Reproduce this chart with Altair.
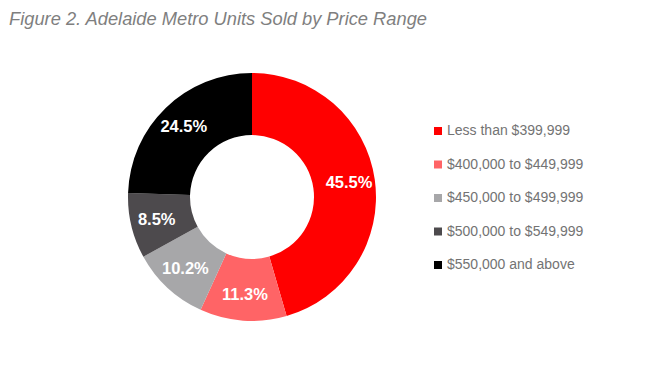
import altair as alt
import pandas as pd

categories = ["Less than $399,999", "$400,000 to $449,999", "$450,000 to $499,999",
              "$500,000 to $549,999", "$550,000 and above"]
shares = [45.5, 11.3, 10.2, 8.5, 24.5]
labels = ["45.5%", "11.3%", "10.2%", "8.5%", "24.5%"]
colors = ["#FF0000", "#FF6466", "#A7A7A9", "#4D4A4D", "#000000"]

df = pd.DataFrame({"cat": categories, "share": shares, "label": labels,
                   "idx": list(range(len(categories)))})

cx, cy = 244, 151

base = alt.Chart(df).encode(
    theta=alt.Theta("share:Q", stack=True),
    order=alt.Order("idx:Q"),
)

arcs = base.mark_arc(innerRadius=62, outerRadius=124, stroke=None).encode(
    x=alt.value(cx), y=alt.value(cy),
    color=alt.Color("cat:N", scale=alt.Scale(domain=categories, range=colors),
                    legend=alt.Legend(title=None, orient="none", legendX=423, legendY=78,
                                      symbolType="square", symbolSize=64,
                                      symbolStrokeWidth=0,
                                      labelFontSize=14, labelFont="Liberation Sans",
                                      labelColor="#737373", rowPadding=19.5,
                                      labelOffset=2)),
)

text = base.mark_text(radius=98, font="Liberation Sans", fontSize=16.5,
                      fontWeight="bold", color="white").encode(
    x=alt.value(cx), y=alt.value(cy),
    text="label:N",
)

chart = (arcs + text).properties(
    width=636, height=316,
    autosize=alt.AutoSizeParams(type="none"),
    padding={"left": 0, "top": 38, "right": 0, "bottom": 0},
    title=alt.TitleParams("Figure 2. Adelaide Metro Units Sold by Price Range",
                          anchor="start", offset=17, fontSize=18.3, fontStyle="italic",
                          fontWeight="normal", font="Liberation Sans", color="#7F7F7F",
                          frame="group", dx=1),
).configure_view(stroke=None)

chart.save("out.html", embed_options={"renderer": "svg", "actions": False})
